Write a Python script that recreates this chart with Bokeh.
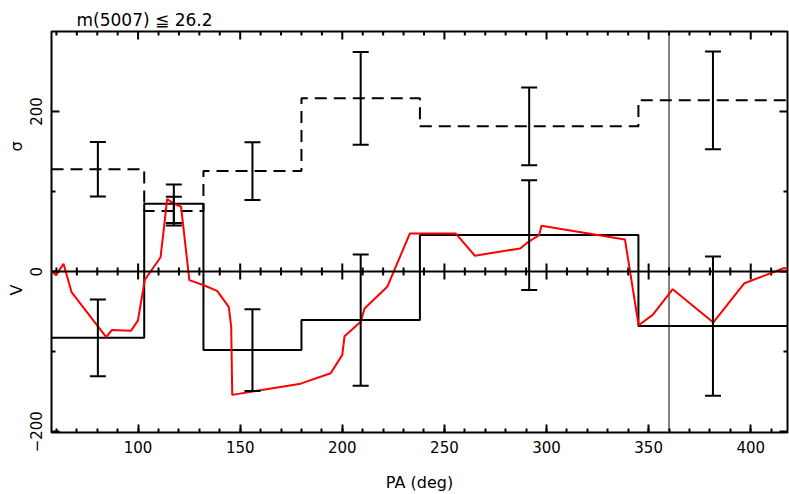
import numpy as np
from bokeh.plotting import figure
from bokeh.models import (Range1d, LinearAxis, SingleIntervalTicker, FixedTicker,
                          Span, Title, Whisker, TeeHead, ColumnDataSource)
from bokeh.embed import file_html
from bokeh.resources import INLINE

# ---------------- data ----------------
bin_edges = [57.6, 103, 132, 180, 238, 345, 418]
sigma_bins = [128, 75.6, 125.6, 216.5, 181.5, 214]
v_bins = [-82.7, 84.7, -98, -60.6, 45.6, -68]

sigma_err = [34, 18, 36, 58, 48.5, 61]
v_err = [48, 24, 51, 82, 68.5, 87]

red_pa = [57.0, 59.8, 63.5, 67.4, 84.4, 87.1, 96.5, 99.9, 103.3, 111.0, 112.9, 114.2,
          117.5, 121.1, 121.6, 125.1, 132.2, 138.7, 144.4, 145.6, 146.1, 179.6,
          194.3, 200.0, 201.1, 209.0, 210.9, 222.0, 233.1, 255.5, 264.9, 287.1,
          291.0, 296.4, 297.5, 338.4, 345.1, 352.0, 361.8, 381.7, 396.9, 416.4, 420.0]
red_v = [2.0, -4.4, 9.8, -25.5, -81.8, -73.0, -74.0, -61.3, -10.2, 18.0, 60.0, 90.6,
         85.0, 81.0, 68.5, -10.6, -17.0, -24.0, -44.0, -69.0, -154.0, -140.0,
         -127.0, -104.0, -80.6, -62.7, -46.0, -19.0, 47.7, 47.7, 19.8, 29.0,
         37.0, 45.6, 57.3, 40.2, -67.0, -54.0, -22.0, -63.5, -14.5, 4.5, 1.0]

pa_vline = 360

x_major = [100, 150, 200, 250, 300, 350, 400]
y_major = [-200, 0, 200]
y_minor = [-100, 100]

title_text = "m(5007) \u2266 26.2"
x_label = "PA (deg)"
sig_label = "\u03c3"
v_label = "V"

FONT = "DejaVu Sans"
Y_TOP = 300

# ---------------- figure ----------------
p = figure(frame_width=736, frame_height=401,
           x_range=Range1d(57.6, 418), y_range=Range1d(-201, Y_TOP),
           output_backend="svg", toolbar_location=None,
           min_border_left=51, min_border_right=2, min_border_top=31,
           min_border_bottom=10)
p.grid.visible = False
p.outline_line_color = "black"
p.outline_line_width = 2
p.background_fill_color = "white"
p.border_fill_color = "white"

p.title.text = title_text
p.title.text_font = FONT
p.title.text_font_size = "17px"
p.title.text_font_style = "normal"
p.title.text_color = "black"
p.title.align = "left"
p.title.offset = 25
p.title.standoff = 0
p.title.vertical_align = "top"


def style_axis(ax, ticker, show_labels, ticks):
    ax.ticker = ticker
    ax.axis_line_color = None
    ax.major_tick_in = 8
    ax.major_tick_out = 0
    ax.minor_tick_in = 4
    ax.minor_tick_out = 0
    ax.major_tick_line_width = 2
    ax.minor_tick_line_width = 2
    ax.major_tick_line_color = "black"
    ax.minor_tick_line_color = "black"
    ax.major_label_text_font = FONT
    ax.major_label_text_color = "black"
    if show_labels:
        ax.major_label_text_font_size = "15px"
    else:
        ax.major_label_text_font_size = "0px"
        ax.major_label_standoff = 0
        ax.major_label_overrides = {t: "" for t in ticks}


xt = SingleIntervalTicker(interval=50, num_minor_ticks=5)
yt = FixedTicker(ticks=y_major, minor_ticks=y_minor)

xb = p.xaxis[0]
style_axis(xb, xt, True, x_major)
xb.major_label_standoff = 8
xb.axis_label = x_label
xb.axis_label_text_font = FONT
xb.axis_label_text_font_size = "16px"
xb.axis_label_text_font_style = "normal"
xb.axis_label_text_color = "black"
xb.axis_label_standoff = 17

yl = p.yaxis[0]
style_axis(yl, yt, True, y_major)
yl.major_label_orientation = "vertical"
yl.major_label_standoff = 9
yl.major_label_overrides = {-200: "\u2212200", 0: "0", 200: "200"}

yr = LinearAxis()
style_axis(yr, FixedTicker(ticks=y_major, minor_ticks=y_minor), False, y_major)
p.add_layout(yr, "right")

# side labels V and sigma (one vertical title in the left panel)
gap = "\u2003" * 8 + "\u00a0"
p.add_layout(Title(text=v_label + gap + sig_label, align="left", offset=137,
                   text_font=FONT, text_font_size="16px", text_font_style="normal",
                   text_color="black", standoff=4), "left")

# vertical gray line at PA = 360
p.add_layout(Span(location=pa_vline, dimension="height", line_color="#808080",
                  line_width=2, level="underlay"))

# zero line with crossing ticks, and inward ticks along the top edge
p.add_layout(Span(location=0, dimension="width", line_color="black", line_width=2))
mid_minor = [v for v in range(60, 418, 10) if v % 50 != 0]
p.segment(x0=x_major, x1=x_major, y0=-10, y1=10, line_color="black", line_width=2)
p.segment(x0=mid_minor, x1=mid_minor, y0=-5, y1=5, line_color="black", line_width=2)
p.segment(x0=x_major, x1=x_major, y0=Y_TOP, y1=Y_TOP - 10, line_color="black", line_width=2)
p.segment(x0=mid_minor, x1=mid_minor, y0=Y_TOP, y1=Y_TOP - 5, line_color="black", line_width=2)

# step functions
p.step(x=bin_edges, y=sigma_bins + [sigma_bins[-1]], mode="after",
       line_color="black", line_width=2, line_dash="12 7")
p.step(x=bin_edges, y=v_bins + [v_bins[-1]], mode="after",
       line_color="black", line_width=2)

# red curve
p.line(red_pa, red_v, line_color="#ff0000", line_width=2)

# error bars
centers = [(bin_edges[i] + bin_edges[i + 1]) / 2 for i in range(len(sigma_bins))]
src_s = ColumnDataSource(dict(
    x=centers,
    lo=[s - e for s, e in zip(sigma_bins, sigma_err)],
    hi=[s + e for s, e in zip(sigma_bins, sigma_err)]))
src_v = ColumnDataSource(dict(
    x=centers,
    lo=[s - e for s, e in zip(v_bins, v_err)],
    hi=[s + e for s, e in zip(v_bins, v_err)]))
for src in (src_s, src_v):
    w = Whisker(source=src, base="x", lower="lo", upper="hi", dimension="height",
                line_color="black", line_width=2, level="overlay",
                lower_head=TeeHead(size=16, line_width=2, line_color="black"),
                upper_head=TeeHead(size=16, line_width=2, line_color="black"))
    p.add_layout(w)

open("out.html", "w").write(file_html(p, INLINE))
